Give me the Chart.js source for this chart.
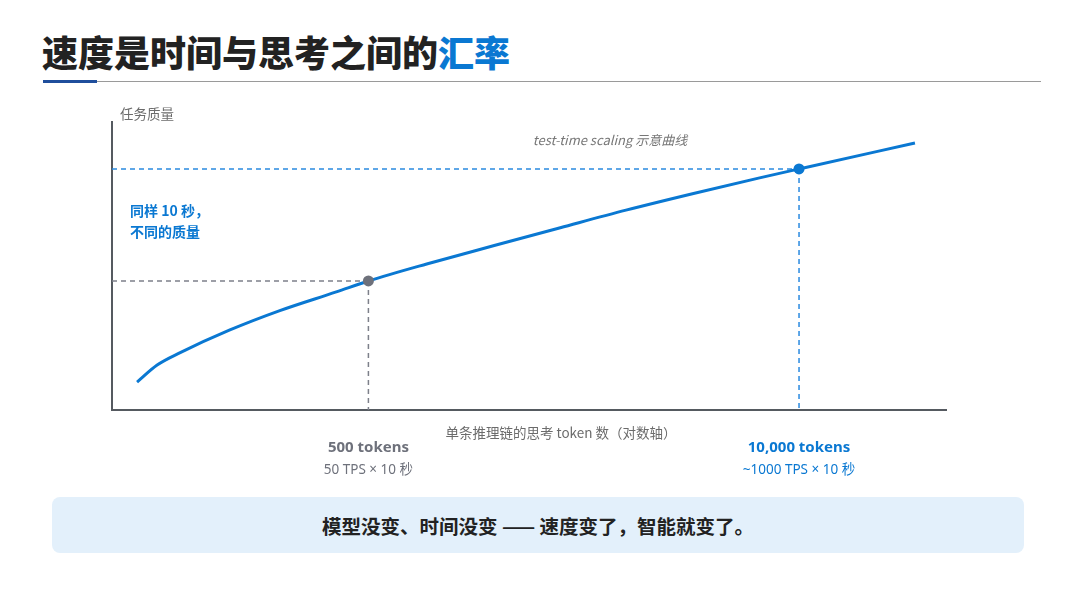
<!DOCTYPE html>
<html>
<head>
<meta charset="utf-8">
<script src="https://cdn.jsdelivr.net/npm/chart.js@4/dist/chart.umd.min.js"></script>
<style>
  body { margin: 0; background: #fff; font-family: "Noto Sans CJK SC", "Noto Sans", sans-serif; }
  #page { position: relative; width: 1080px; height: 608px; overflow: hidden; }
  #title { position: absolute; left: 42px; top: 25px; font-size: 36px; font-weight: 900; color: #222; }
  #title span { color: #0a78d2; }
  #rule { position: absolute; left: 43px; top: 81px; width: 998px; height: 1px; background: #9a9a9a; }
  #rule-accent { position: absolute; left: 43px; top: 80px; width: 54px; height: 3px; background: #1f4e9c; }
  #note { position: absolute; left: 52px; top: 497px; width: 972px; height: 56px; background: #e3f0fb; border-radius: 8px;
          display: flex; align-items: center; justify-content: center; font-size: 19.5px; font-weight: 700; color: #222; }
  canvas { position: absolute; left: 0; top: 0; }
</style>
</head>
<body>
<div id="page">
  <div id="title">速度是时间与思考之间的<span>汇率</span></div>
  <div id="rule"></div>
  <div id="rule-accent"></div>
  <canvas id="chart" width="1080" height="608"></canvas>
  <div id="note">模型没变、时间没变 —— 速度变了，智能就变了。</div>
</div>
<script>
// curve (x = tokens, log axis; y = quality, 0-100)
const tokens = [100, 115, 135, 190, 270, 400, 500, 750, 1200, 1900, 3000, 4800, 7600, 10000, 22400];
const quality = [9.7, 15.6, 19.9, 27.7, 34.5, 41.0, 44.8, 50.7, 57.1, 63.3, 69.4, 75.2, 80.6, 83.7, 92.7];

// the two highlighted points
const markerTokens = [500, 10000];
const markerQuality = [44.8, 83.7];
const markerTitles = ['500 tokens', '10,000 tokens'];
const markerNotes = ['50 TPS × 10 秒', '~1000 TPS × 10 秒'];
const markerColors = ['#6e717b', '#0a78d2'];
const guideColors = ['#7d808a', '#2a8ae0'];

const xRange = [84, 27800];
const yRange = [0, 100];

const FONT = '"Noto Sans CJK SC", "Noto Sans", sans-serif';
const LATIN_FONT = '"Noto Sans", "Noto Sans CJK SC", sans-serif';

const guides = {
  id: 'guides',
  beforeDatasetsDraw(chart) {
    const { ctx, chartArea, scales } = chart;
    ctx.save();
    ctx.lineWidth = 1.5;
    ctx.setLineDash([5, 4]);
    markerTokens.forEach((t, i) => {
      const px = scales.x.getPixelForValue(t);
      const py = scales.y.getPixelForValue(markerQuality[i]);
      ctx.strokeStyle = guideColors[i];
      ctx.beginPath();
      ctx.moveTo(chartArea.left, py);
      ctx.lineTo(px, py);
      ctx.moveTo(px, py);
      ctx.lineTo(px, chartArea.bottom);
      ctx.stroke();
    });
    ctx.restore();
  },
  afterDraw(chart) {
    const { ctx, chartArea, scales } = chart;
    ctx.save();
    ctx.textBaseline = 'middle';

    // y axis name
    ctx.fillStyle = '#6b6b6b';
    ctx.font = '13.5px ' + FONT;
    ctx.textAlign = 'left';
    ctx.fillText('任务质量', chartArea.left + 8, chartArea.top - 8);

    // x axis name
    ctx.textAlign = 'center';
    ctx.fillText('单条推理链的思考 token 数（对数轴）', 561, chartArea.bottom + 23);

    // caption
    ctx.fillStyle = '#777';
    ctx.font = 'italic 13px ' + FONT;
    ctx.fillText('test-time scaling 示意曲线', 610, 140);

    // callout
    ctx.fillStyle = '#0a78d2';
    ctx.font = 'bold 14px ' + FONT;
    ctx.textAlign = 'left';
    ctx.fillText('同样 10 秒，', chartArea.left + 18, 211);
    ctx.fillText('不同的质量', chartArea.left + 18, 232);

    // marker labels under the axis
    ctx.textAlign = 'center';
    markerTokens.forEach((t, i) => {
      const px = scales.x.getPixelForValue(t);
      ctx.fillStyle = markerColors[i];
      ctx.font = 'bold 15px ' + LATIN_FONT;
      ctx.fillText(markerTitles[i], px, chartArea.bottom + 38);
      ctx.font = '13.5px ' + LATIN_FONT;
      ctx.fillText(markerNotes[i], px, chartArea.bottom + 60);
    });
    ctx.restore();
  }
};

new Chart(document.getElementById('chart'), {
  type: 'line',
  data: {
    datasets: [
      {
        data: markerTokens.map((t, i) => ({ x: t, y: markerQuality[i] })),
        showLine: false,
        pointRadius: 5.5,
        pointBackgroundColor: markerColors,
        pointBorderWidth: 0,
        order: 0
      },
      {
        data: tokens.map((t, i) => ({ x: t, y: quality[i] })),
        borderColor: '#0a78d2',
        borderWidth: 3,
        pointRadius: 0,
        cubicInterpolationMode: 'monotone',
        order: 1
      }
    ]
  },
  options: {
    responsive: false,
    animation: false,
    layout: { padding: { left: 112, top: 122, right: 134, bottom: 198 } },
    plugins: { legend: { display: false }, tooltip: { enabled: false } },
    scales: {
      x: {
        type: 'logarithmic',
        min: xRange[0], max: xRange[1],
        grid: { display: false, drawTicks: false },
        ticks: { display: false },
        border: { display: true, color: '#555a60', width: 2 }
      },
      y: {
        min: yRange[0], max: yRange[1],
        grid: { display: false, drawTicks: false },
        ticks: { display: false },
        border: { display: true, color: '#555a60', width: 2 }
      }
    }
  },
  plugins: [guides]
});
</script>
</body>
</html>
